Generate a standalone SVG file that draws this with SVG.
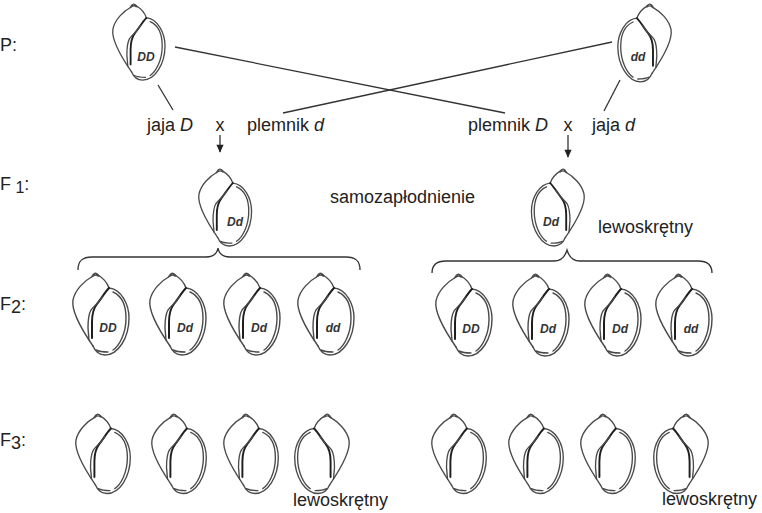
<svg xmlns="http://www.w3.org/2000/svg" xmlns:xlink="http://www.w3.org/1999/xlink" width="762" height="513" viewBox="0 0 762 513">
<style>
.o{fill:none;stroke:#4a4a4a;stroke-width:1.4;stroke-linecap:round;stroke-linejoin:round}
.c{fill:none;stroke:#1e1e1e;stroke-width:2;stroke-linecap:round}
.t{font-family:"Liberation Sans",Arial,sans-serif;font-size:18px;fill:#222}
.g{font-family:"Liberation Sans",Arial,sans-serif;font-size:12px;font-weight:bold;font-style:italic;fill:#333;text-anchor:middle}
.i{font-style:italic}
.ln{fill:none;stroke:#333;stroke-width:1.3}
</style>
<defs>
<g id="shell">
<path class="o" d="M21,4 C12,9 3,18 1,28 C-1,40 10,58 21,74"/>
<path class="o" d="M19.5,5 Q23,-2 27,4 M21,4 Q24,2 26,4"/>
<path class="o" d="M26,3 C31,6 35,10 37,16"/>
<path class="o" d="M37,16 C49,17 57,32 57,46 C57,66 46,83 33,83 C27,83 23,79 21,74"/>
<path class="o" d="M41,20 C50,24 54,34 54,46 C54,62 47,74 41,78"/>
<path class="o" d="M24,78 C28,80 32,80 36,80"/>
<path class="c" d="M37,16 C33,20 29,27 25,32 C21,37 20,42 20,50 L20,66"/>
<path class="o" d="M31,24 C28,29 23,33 19,38 C16,43 16,50 16,56 L17,68"/>
</g>
<marker id="ah" viewBox="0 0 10 10" refX="9" refY="5" markerWidth="9" markerHeight="8" orient="auto" markerUnits="userSpaceOnUse">
<path d="M0,0.5 L10,5 L0,9.5 z" fill="#222"/>
</marker>
</defs>

<g id="labels">
<text class="t" x="0" y="51">P:</text>
<text class="t" x="0" y="190">F<tspan dy="3" font-size="16"> 1</tspan><tspan dy="-3">:</tspan></text>
<text class="t" x="0" y="310">F<tspan dy="3">2</tspan><tspan dy="-3">:</tspan></text>
<text class="t" x="0" y="446">F<tspan dy="3">3</tspan><tspan dy="-3">:</tspan></text>
<text class="t" x="147" y="131">jaja <tspan class="i">D</tspan></text>
<text class="t" x="220" y="131" text-anchor="middle">x</text>
<text class="t" x="247" y="131">plemnik <tspan class="i">d</tspan></text>
<text class="t" x="468" y="131">plemnik <tspan class="i">D</tspan></text>
<text class="t" x="568" y="131" text-anchor="middle">x</text>
<text class="t" x="592" y="131">jaja <tspan class="i">d</tspan></text>
<text class="t" x="330" y="203">samozapłodnienie</text>
<text class="t" x="598" y="233">lewoskrętny</text>
<text class="t" x="293" y="506">lewoskrętny</text>
<text class="t" x="662" y="505">lewoskrętny</text>
</g>

<g id="connectors">
<line class="ln" x1="158" y1="85" x2="173" y2="110"/>
<line class="ln" x1="175" y1="47" x2="505" y2="113"/>
<line class="ln" x1="612" y1="42" x2="283" y2="113"/>
<line class="ln" x1="620" y1="80" x2="604" y2="111"/>
<line class="ln" x1="220" y1="135" x2="220" y2="152" stroke-width="2.2" marker-end="url(#ah)"/>
<line class="ln" x1="568" y1="135" x2="568" y2="157" stroke-width="2.2" marker-end="url(#ah)"/>
<path class="ln" d="M78,270 C78,261 82,257 92,257 L206,257 C213,257 217,254 218,248 C219,254 223,257 230,257 L346,257 C356,257 360,261 360,270"/>
<path class="ln" d="M432,273 C432,265 436,261 446,261 L554,261 C561,261 565,257 567,250 C569,257 573,261 580,261 L698,261 C708,261 712,265 712,273"/>
</g>

<g id="P-DD"><use href="#shell" transform="translate(112,3) scale(0.93)"/><text class="g" x="146" y="61">DD</text></g>
<g id="P-dd"><use href="#shell" transform="translate(672,3) scale(-0.95,0.95)"/><text class="g" x="638" y="61">dd</text></g>

<g id="F1-left"><use href="#shell" transform="translate(198,168) scale(0.94)"/><text class="g" x="235" y="226">Dd</text></g>
<g id="F1-right"><use href="#shell" transform="translate(585,168) scale(-0.94,0.94)"/><text class="g" x="551" y="226">Dd</text></g>

<g id="F2-L1"><use href="#shell" transform="translate(72,272)"/><text class="g" x="108" y="332">DD</text></g>
<g id="F2-L2"><use href="#shell" transform="translate(149,272)"/><text class="g" x="185" y="332">Dd</text></g>
<g id="F2-L3"><use href="#shell" transform="translate(223,272)"/><text class="g" x="259" y="332">Dd</text></g>
<g id="F2-L4"><use href="#shell" transform="translate(297,272)"/><text class="g" x="333" y="332">dd</text></g>
<g id="F2-R1"><use href="#shell" transform="translate(435,273)"/><text class="g" x="471" y="333">DD</text></g>
<g id="F2-R2"><use href="#shell" transform="translate(512,273)"/><text class="g" x="548" y="333">Dd</text></g>
<g id="F2-R3"><use href="#shell" transform="translate(584,273)"/><text class="g" x="620" y="333">Dd</text></g>
<g id="F2-R4"><use href="#shell" transform="translate(655,273)"/><text class="g" x="691" y="333">dd</text></g>

<g id="F3-L1"><use href="#shell" transform="translate(75,413) scale(0.97)"/></g>
<g id="F3-L2"><use href="#shell" transform="translate(151,413) scale(0.97)"/></g>
<g id="F3-L3"><use href="#shell" transform="translate(223,413) scale(0.97)"/></g>
<g id="F3-L4"><use href="#shell" transform="translate(350,413) scale(-0.97,0.97)"/></g>
<g id="F3-R1"><use href="#shell" transform="translate(431,413) scale(0.97)"/></g>
<g id="F3-R2"><use href="#shell" transform="translate(508,413) scale(0.97)"/></g>
<g id="F3-R3"><use href="#shell" transform="translate(580,413) scale(0.97)"/></g>
<g id="F3-R4"><use href="#shell" transform="translate(709,413) scale(-0.97,0.97)"/></g>
</svg>
